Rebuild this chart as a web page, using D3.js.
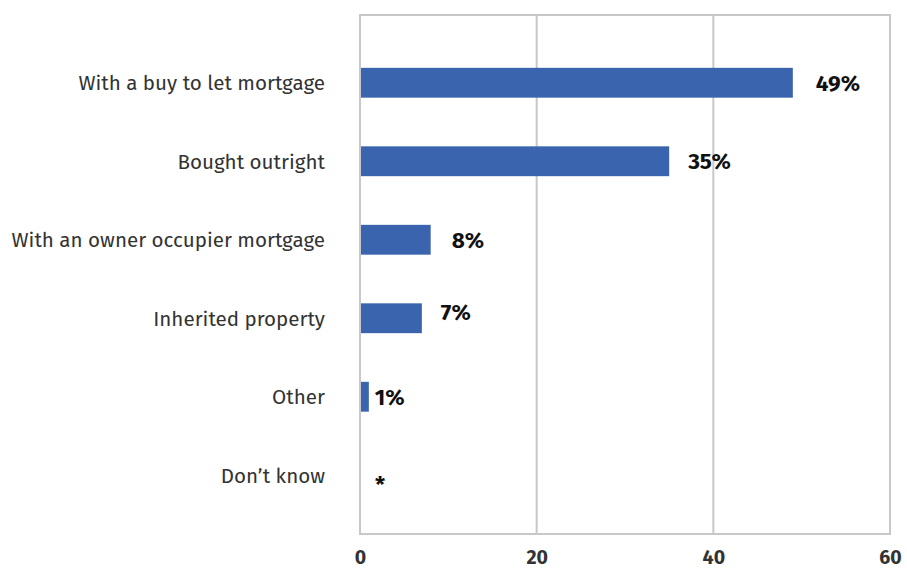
<!DOCTYPE html>
<html>
<head>
<meta charset="utf-8">
<script src="https://cdn.jsdelivr.net/npm/d3@7/dist/d3.min.js"></script>
<style>
  html, body { margin: 0; padding: 0; background: #fff; }
  svg { display: block; }
  text { font-family: "Fira Sans", "Open Sans", "Noto Sans", sans-serif; }
</style>
</head>
<body>
<svg id="chart" width="907" height="570"></svg>
<script>
// How landlords acquired their property (% of respondents)
const categories = [
  "With a buy to let mortgage",
  "Bought outright",
  "With an owner occupier mortgage",
  "Inherited property",
  "Other",
  "Don\u2019t know"
];
const values = [49, 35, 8, 7, 1, 0];
const valueLabels = ["49%", "35%", "8%", "7%", "1%", "*"];
const xTicks = [0, 20, 40, 60];

// hand-placed label offsets (px) from the end of each bar
const labelShiftX = [23, 19, 21, 19, 6, 15];
const labelShiftY = [0, 0, 0, -6, 0, 9];

const svg = d3.select("#chart");
const plot = { left: 360, right: 890, top: 15, bottom: 534 };

const x = d3.scaleLinear().domain([0, 60]).range([plot.left, plot.right]);
const y = d3.scaleBand()
  .domain(categories)
  .range([43.5, 514.5])
  .paddingInner(0.62)
  .paddingOuter(0.31);

const gridColor = "#c8c8cb";

// vertical gridlines
svg.append("g")
  .selectAll("line")
  .data(xTicks.slice(1, -1))
  .join("line")
  .attr("x1", d => x(d)).attr("x2", d => x(d))
  .attr("y1", plot.top).attr("y2", plot.bottom)
  .attr("stroke", gridColor)
  .attr("stroke-width", 2);

// plot frame
svg.append("rect")
  .attr("x", plot.left).attr("y", plot.top)
  .attr("width", plot.right - plot.left)
  .attr("height", plot.bottom - plot.top)
  .attr("fill", "none")
  .attr("stroke", gridColor)
  .attr("stroke-width", 2);

// bars
svg.append("g")
  .selectAll("rect")
  .data(values)
  .join("rect")
  .attr("x", x(0) + 1)
  .attr("y", (d, i) => y(categories[i]))
  .attr("width", d => Math.max(0, x(d) - x(0) - 1))
  .attr("height", y.bandwidth())
  .attr("fill", "#3a64ad");

// value labels
svg.append("g")
  .selectAll("text")
  .data(values)
  .join("text")
  .attr("x", (d, i) => x(d) + labelShiftX[i])
  .attr("y", (d, i) => y(categories[i]) + y.bandwidth() / 2 + labelShiftY[i])
  .attr("dy", "0.36em")
  .attr("font-size", 22.5)
  .attr("font-weight", 700)
  .attr("fill", "#111")
  .text((d, i) => valueLabels[i]);

// category axis
const yAxis = d3.axisLeft(y).tickSize(0).tickPadding(35);
const gy = svg.append("g").attr("transform", `translate(${plot.left},1)`).call(yAxis);
gy.select(".domain").remove();
gy.selectAll("text")
  .attr("font-size", 20.6)
  .attr("fill", "#333")
  .style("font-family", null);

// value axis
const xAxis = d3.axisBottom(x).tickValues(xTicks).tickSize(0).tickPadding(16);
const gx = svg.append("g").attr("transform", `translate(0,${plot.bottom})`).call(xAxis);
gx.select(".domain").remove();
gx.selectAll("text")
  .attr("font-size", 19.5)
  .attr("font-weight", 700)
  .attr("fill", "#333")
  .style("font-family", null);
</script>
</body>
</html>
